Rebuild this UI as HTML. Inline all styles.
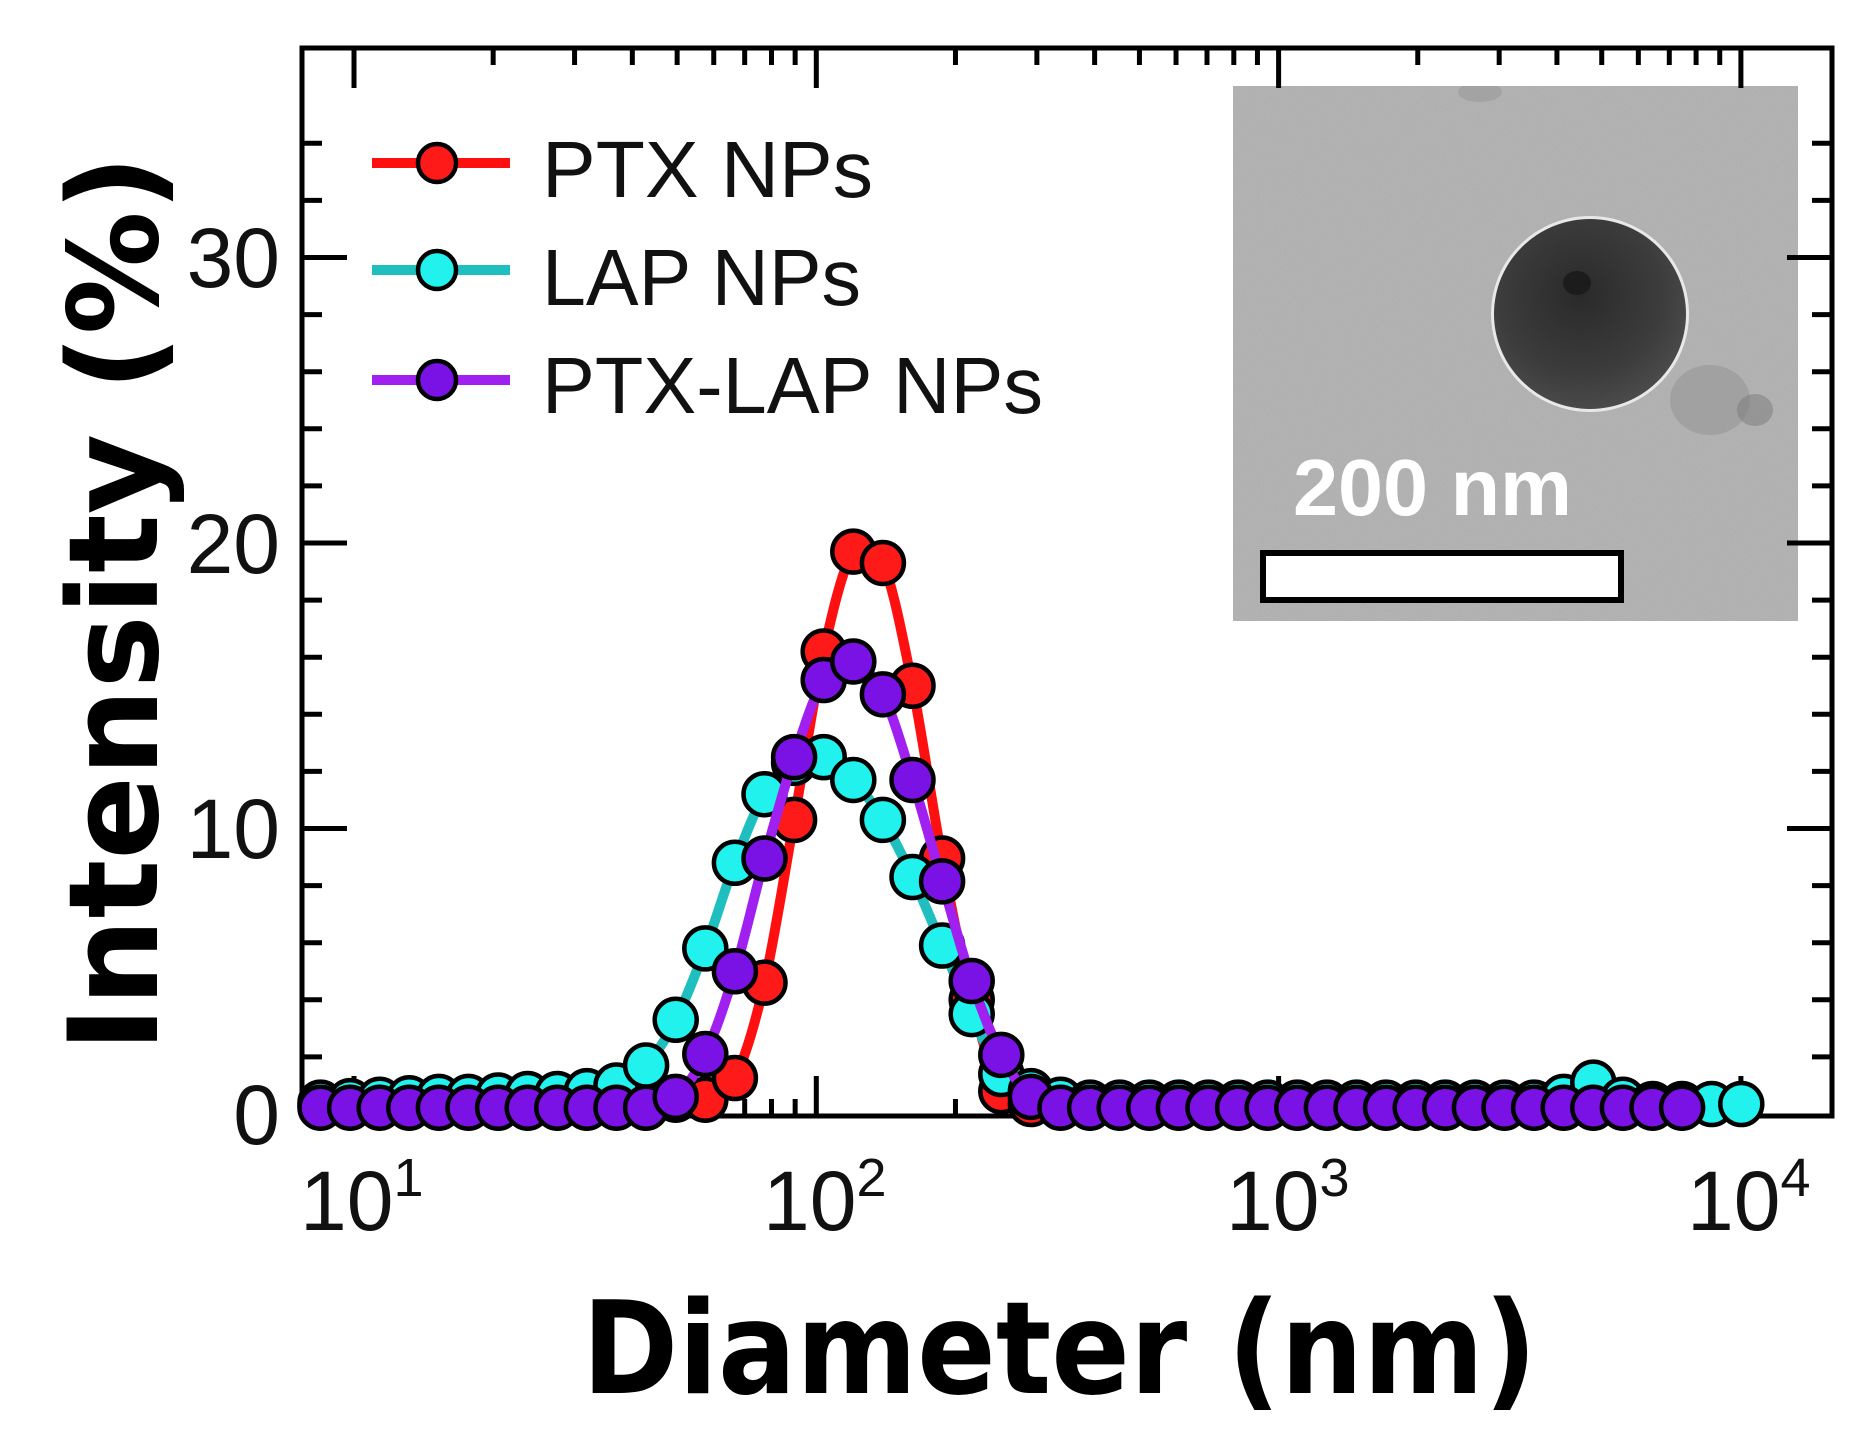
<!DOCTYPE html>
<html><head><meta charset="utf-8"><style>
html,body{margin:0;padding:0;background:#fff;}
svg{display:block;}
</style></head><body>
<svg id="s" width="1875" height="1455" viewBox="0 0 1875 1455" xmlns="http://www.w3.org/2000/svg">
<defs>
<filter id="noise" x="0" y="0" width="100%" height="100%">
<feTurbulence type="fractalNoise" baseFrequency="0.9" numOctaves="2" seed="3"/>
<feColorMatrix type="matrix" values="0 0 0 0 0.66  0 0 0 0 0.66  0 0 0 0 0.66  0.6 0 0 0 0"/>
</filter>
<radialGradient id="pg" cx="0.45" cy="0.4" r="0.6">
<stop offset="0" stop-color="#2a2a2a"/><stop offset="0.7" stop-color="#3c3c3c"/><stop offset="1" stop-color="#4a4a4a"/>
</radialGradient>
<clipPath id="ic"><rect x="1233" y="86" width="565" height="535"/></clipPath>
</defs>
<rect width="1875" height="1455" fill="#fff"/>
<g id="inset">
<rect x="1233" y="86" width="565" height="535" fill="#ababab"/>
<rect x="1233" y="86" width="565" height="535" filter="url(#noise)" opacity="0.5"/>
<g clip-path="url(#ic)">
<ellipse cx="1480" cy="92" rx="22" ry="10" fill="#8e8e8e" opacity="0.4"/>
<ellipse cx="1710" cy="400" rx="40" ry="35" fill="#8a8a8a" opacity="0.4"/>
<ellipse cx="1755" cy="410" rx="18" ry="16" fill="#7a7a7a" opacity="0.5"/>
</g>
<ellipse cx="1590" cy="314" rx="99" ry="98" fill="#e8e8e8"/>
<ellipse cx="1590" cy="314" rx="96" ry="95" fill="url(#pg)"/>
<ellipse cx="1577" cy="283" rx="14" ry="12" fill="#1c1c1c"/>
<rect x="1263" y="553" width="358" height="47" fill="#fff" stroke="#000" stroke-width="6"/>
<text x="1293" y="515" font-family="Liberation Sans, sans-serif" font-weight="bold" font-size="80" fill="#fff" textLength="279" lengthAdjust="spacingAndGlyphs">200 nm</text>
</g>
<g id="axes" stroke="#000" fill="none"></g>
<g id="data"></g>
<g font-family="Liberation Sans, sans-serif" font-size="84" fill="#111" text-anchor="end">
<text x="280" y="287">30</text>
<text x="280" y="573">20</text>
<text x="280" y="858">10</text>
<text x="280" y="1144">0</text>
</g>
<g font-family="Liberation Sans, sans-serif" font-size="84" fill="#111">
<text x="300" y="1230">10<tspan font-size="54" dy="-34">1</tspan></text>
<text x="763" y="1230">10<tspan font-size="54" dy="-34">2</tspan></text>
<text x="1226" y="1230">10<tspan font-size="54" dy="-34">3</tspan></text>
<text x="1687" y="1230">10<tspan font-size="54" dy="-34">4</tspan></text>
</g>
<g font-family="Liberation Sans, sans-serif" font-size="80" fill="#111">
<text x="542" y="197" textLength="331" lengthAdjust="spacingAndGlyphs">PTX NPs</text>
<text x="542" y="305" textLength="319" lengthAdjust="spacingAndGlyphs">LAP NPs</text>
<text x="542" y="413" textLength="501" lengthAdjust="spacingAndGlyphs">PTX-LAP NPs</text>
</g>
<text x="582" y="1393" font-family="DejaVu Sans, sans-serif" font-weight="bold" font-size="128" fill="#000" textLength="955" lengthAdjust="spacingAndGlyphs">Diameter (nm)</text>
<text transform="translate(157,1052) rotate(-90)" x="0" y="0" font-family="DejaVu Sans, sans-serif" font-weight="bold" font-size="124" fill="#000" textLength="897" lengthAdjust="spacingAndGlyphs">Intensity (%)</text>
</svg>
<script>
var NS="http://www.w3.org/2000/svg";
function el(p,t,a){var e=document.createElementNS(NS,t);for(var k in a)e.setAttribute(k,a[k]);p.appendChild(e);return e;}
var ax=document.getElementById('axes');
var L=302,R=1832,T=48,B=1116,y0=1114,pu=28.55;
el(ax,'rect',{x:L,y:T,width:R-L,height:B-T,'stroke-width':5});
function Y(v){return y0-v*pu;}
for(var v=2;v<=34;v+=2){var y=Y(v);var len=(v%10==0)?45:20;
 el(ax,'line',{x1:L,y1:y,x2:L+len,y2:y,'stroke-width':5});
 el(ax,'line',{x1:R,y1:y,x2:R-len,y2:y,'stroke-width':5});}
function X(lg){return 354+(lg-1)*462.3;}
for(var d=0;d<4;d++){for(var m=1;m<=9;m++){var lg=1+d+Math.log10(m);if(lg>4.2)continue;var x=X(lg);if(x<L+5||x>R-5)continue;
 var len=(m==1)?40:17;
 el(ax,'line',{x1:x,y1:B,x2:x,y2:B-len,'stroke-width':5});
 el(ax,'line',{x1:x,y1:T,x2:x,y2:T+len,'stroke-width':5});}}
var ptx=[],lap=[],pl=[];
for(var i=0;i<49;i++){ptx.push(0.3);lap.push(0.4);pl.push(0.22);}
var pv={11:0.35,12:0.5,13:0.5,14:1.26,15:4.6,16:10.3,17:16.2,18:19.7,19:19.3,20:15.0,21:8.95,22:4.0,23:0.8,24:0.35};
var lv={0:0.4,1:0.45,2:0.5,3:0.55,4:0.6,5:0.6,6:0.65,7:0.7,8:0.7,9:0.8,10:1.0,11:1.7,12:3.3,13:5.8,14:8.8,15:11.2,16:12.3,17:12.5,18:11.7,19:10.3,20:8.3,21:5.9,22:3.5,23:1.4,24:0.8,25:0.5,42:0.6,43:1.1,44:0.5,45:0.35,46:0.35,47:0.35,48:0.35};
var qv={12:0.6,13:2.1,14:5.0,15:8.95,16:12.5,17:15.2,18:15.85,19:14.7,20:11.7,21:8.15,22:4.66,23:2.07,24:0.6};
for(var k in pv)ptx[k]=pv[k];for(var k in lv)lap[k]=lv[k];for(var k in qv)pl[k]=qv[k];
function px(i){return 320.5+29.6*i;}
var dg=document.getElementById('data');
function series(vals,n,lc,fc){
 var pts=[];for(var i=0;i<n;i++)pts.push([px(i),Y(vals[i])]);
 var d='M'+pts[0][0]+','+pts[0][1];
 for(var i=0;i<pts.length-1;i++){var p0=pts[Math.max(i-1,0)],p1=pts[i],p2=pts[i+1],p3=pts[Math.min(i+2,pts.length-1)];
  d+=' C'+(p1[0]+(p2[0]-p0[0])/6)+','+(p1[1]+(p2[1]-p0[1])/6)+' '+(p2[0]-(p3[0]-p1[0])/6)+','+(p2[1]-(p3[1]-p1[1])/6)+' '+p2[0]+','+p2[1];}
 el(dg,'path',{d:d,fill:'none',stroke:lc,'stroke-width':10,'stroke-linejoin':'round'});
 for(var i=0;i<pts.length;i++)el(dg,'circle',{cx:pts[i][0],cy:pts[i][1],r:21,fill:fc,stroke:'#000','stroke-width':4.5});
}
series(ptx,47,'#ff1010','#ff1a1a');
series(lap,49,'#1fbfbf','#22f2ee');
series(pl,47,'#a020f0','#7a12e6');
var leg=[[163,'#ff1010','#ff1a1a'],[270,'#1fbfbf','#22f2ee'],[380,'#a020f0','#7a12e6']];
leg.forEach(function(l){el(dg,'line',{x1:372,y1:l[0],x2:510,y2:l[0],stroke:l[1],'stroke-width':10});
 el(dg,'circle',{cx:437,cy:l[0],r:19,fill:l[2],stroke:'#000','stroke-width':4.5});});
</script>
</body></html>
